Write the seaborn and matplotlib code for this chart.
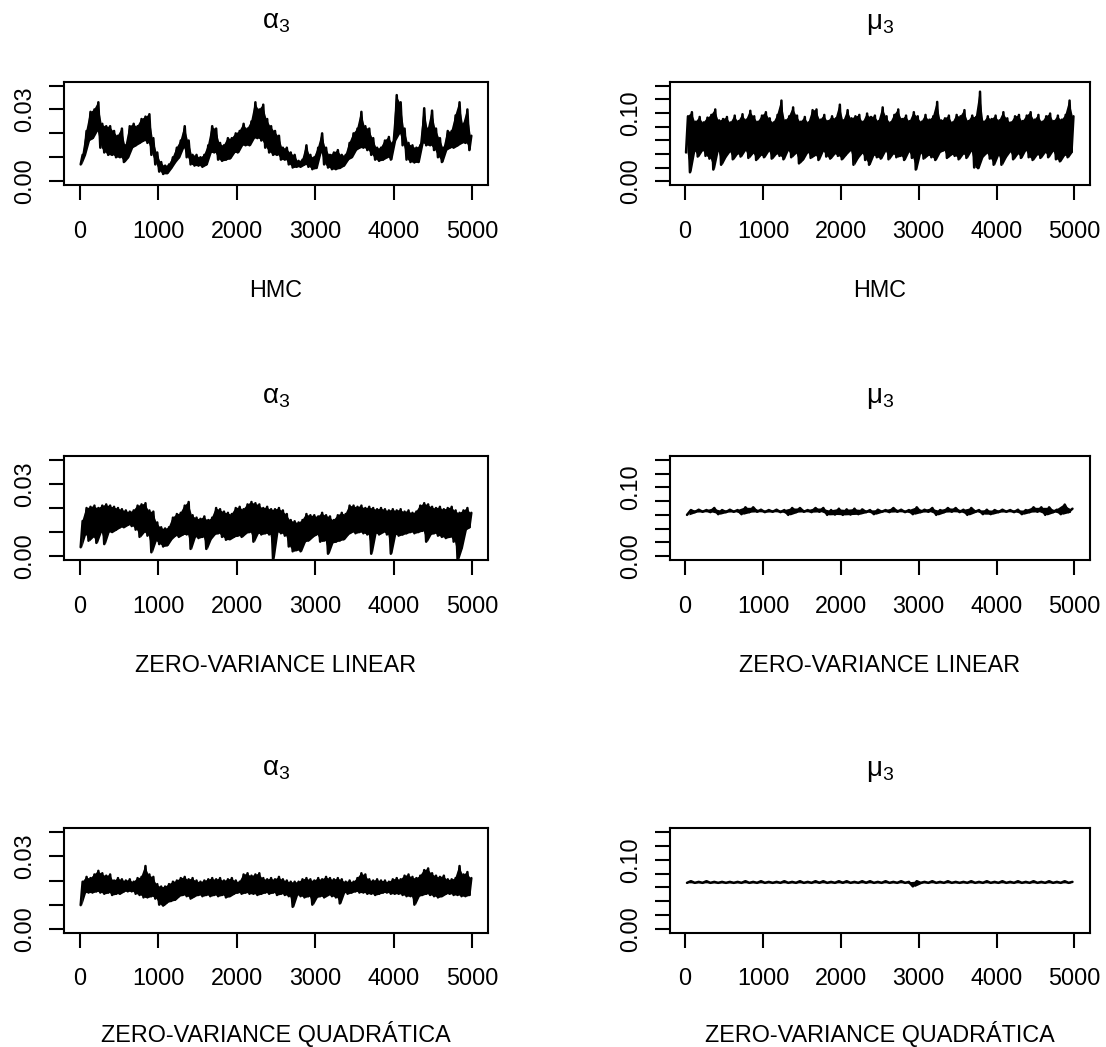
import numpy as np
import pandas as pd
import matplotlib
matplotlib.use("Agg")
import matplotlib.pyplot as plt
import seaborn as sns

# ------------------------------------------------------------------
# MCMC chains of alpha_3 and mu_3 (5000 iterations each), summarised
# as the minimum / maximum of the chain inside consecutive blocks.
# All values are given in units of 1e-3.
# ------------------------------------------------------------------
n_iter = 5000

# alpha_3, HMC (blocks of 50 iterations)
alpha_hmc_min = [7, 11, 17, 18, 21, 14, 12, 11, 11, 10,
                 10, 8, 10, 14, 15, 16, 17, 16, 11, 7,
                 4, 3, 3.3, 5.5, 8, 10, 14, 10, 7, 6.5,
                 6.5, 6, 7, 12, 12, 9, 8.5, 9, 9.5, 12,
                 12, 15, 15, 15, 18, 18, 17, 14, 12, 11,
                 11, 9, 9, 7, 5.7, 6, 6, 7, 6, 5,
                 5.5, 12, 7, 5.7, 5, 5, 5.5, 6.5, 9, 10,
                 13, 14, 14, 13, 11, 9, 8.5, 9, 10, 9,
                 17, 20, 15, 9, 8, 7.8, 8, 16, 15, 15,
                 13, 10, 8, 13, 14, 14, 15, 16, 16, 13]
alpha_hmc_max = [11, 21, 29, 30, 33, 24, 23, 23, 21, 19,
                 22, 15, 23, 24, 23, 26, 27, 28, 18, 12,
                 8, 6.5, 7, 10, 14, 17, 23, 17, 11, 11,
                 10, 11, 15, 23, 22, 16, 15, 18, 18, 20,
                 21, 24, 22, 25, 33, 30, 32, 26, 23, 21,
                 19, 14, 14, 12, 11, 8.5, 9, 15, 11, 10,
                 14, 20, 14, 11, 12, 13, 11, 11, 16, 20,
                 22, 29, 23, 22, 18, 14, 14, 17, 18.5, 16,
                 36, 33, 22, 16, 15, 14, 15, 30.5, 22, 29.5,
                 22, 18, 14, 21, 21, 27.5, 33, 24, 30, 19]

# mu_3, HMC (blocks of 50 iterations)
mu_hmc_min = [42, 13, 44, 36, 45, 37, 33, 17, 44, 24,
              35, 43, 32, 40, 36, 45, 34, 41, 31, 38,
              35, 44, 33, 40, 37, 32, 45, 35, 41, 26,
              32, 42, 34, 38, 31, 44, 36, 33, 40, 37,
              32, 39, 45, 24, 34, 41, 31, 24, 38, 35,
              33, 44, 32, 40, 35, 37, 31, 43, 34, 17,
              41, 33, 38, 35, 31, 42, 45, 34, 39, 37,
              32, 40, 34, 44, 20, 19, 35, 41, 33, 24,
              38, 24, 35, 43, 32, 40, 34, 45, 35, 31,
              39, 34, 42, 35, 44, 32, 29, 38, 35, 43]
mu_hmc_max = [95, 101, 87, 94, 86, 93, 97, 105, 89, 91,
              94, 86, 96, 88, 98, 90, 103, 95, 87, 96,
              101, 92, 86, 97, 118, 89, 95, 108, 96, 87,
              94, 86, 104, 105, 90, 97, 88, 95, 92, 112,
              89, 104, 92, 95, 97, 87, 99, 94, 96, 88,
              108, 95, 86, 97, 105, 91, 96, 88, 101, 95,
              87, 97, 90, 95, 116, 89, 92, 96, 86, 97,
              95, 104, 88, 96, 94, 131, 87, 95, 91, 96,
              89, 101, 92, 86, 95, 97, 88, 96, 101, 90,
              97, 87, 95, 99, 88, 96, 90, 97, 118, 95]

# alpha_3, zero-variance linear (blocks of 50 iterations)
alpha_zvl_min = [3.7, 9, 6.4, 8, 5.5, 10, 5, 10, 10, 11,
                 12, 12, 13, 12.5, 11, 8, 10, 8.5, 1.6, 6.4,
                 5, 4, 4.5, 7, 8.5, 8, 9, 9, 3, 8,
                 7.5, 8, 3, 7, 9, 9.5, 8, 6.8, 7, 8,
                 8.5, 8, 9.5, 10, 6, 9.5, 9, 9.5, 9, -1.5,
                 10, 9.5, 8.5, 4, 2, 2.5, 2, 6, 6.5, 8,
                 9, 6, 6.5, 1, 5.5, 6, 6.5, 7, 9, 10,
                 9.5, 10, 9.5, 9, 1, 9.5, 9, 10, 9, 1,
                 9, 8.5, 9, 9.5, 10, 9.5, 10, 10.5, 6, 9,
                 9.5, 8.5, 8, 7.5, 8, 6, -1.5, 3.5, 11, 12]
alpha_zvl_max = [14.6, 20, 20.5, 21, 20, 21, 21.5, 21, 20.5, 20,
                 19.5, 19, 18.5, 19, 21, 21.5, 22, 19, 18.5, 14,
                 12, 11.5, 12, 16, 17.5, 18, 21, 22.5, 17, 16,
                 15.5, 16.5, 15, 16, 20, 19.5, 18.5, 18, 17.5, 20,
                 20.5, 19.5, 21.5, 22.5, 22, 21.5, 20, 20.5, 19.5, 19.5,
                 20, 19, 17.5, 15, 14.5, 14, 15, 17.5, 17, 17,
                 16.5, 18, 17, 16.5, 15, 17, 18, 17.5, 21, 21,
                 20.5, 21, 20, 20.5, 20, 19.5, 20, 19.5, 19, 19.5,
                 19, 19.5, 18.5, 19, 18, 18.5, 21, 22, 21.5, 20.5,
                 20, 20.5, 19.5, 20, 20.5, 19, 18, 19, 20, 18]

# mu_3, zero-variance linear (blocks of 100 iterations)
mu_zvl_min = [60, 64, 64.5, 64, 61, 64, 64.5, 61, 64, 64.5,
              64, 64.5, 64, 60, 64, 64.5, 64, 64.5, 60, 60.5,
              60, 60.5, 61, 64, 61, 64.5, 64, 64.5, 64, 61,
              64, 64.5, 60, 64, 64.5, 64, 60, 64.5, 61, 61,
              64, 64.5, 64, 61, 64, 64.5, 60, 64, 61, 64]
mu_zvl_max = [67, 67.5, 67, 70, 67, 67.5, 67, 71, 71, 67.5,
              67, 67.5, 67, 70, 70, 67, 70, 70, 67, 69,
              68, 69, 68, 67, 67.5, 67, 70, 67.5, 67, 71,
              67.5, 70, 67, 70, 70, 67.5, 70, 67, 67.5, 67,
              67.5, 67, 67.5, 67, 71, 71, 71, 67.5, 75, 69]

# alpha_3, zero-variance quadratic (blocks of 50 iterations)
alpha_zvq_min = [9.8, 15, 15, 15, 15.5, 15, 14.5, 15, 14, 14.5,
                 14.5, 15.5, 15.5, 15.5, 14.5, 14, 13, 13, 13.5, 12.5,
                 10, 9.6, 11, 11.5, 12, 13.5, 14, 13.5, 12.5, 13.5,
                 14, 13.5, 14, 13.5, 14, 13.5, 14, 13, 13.5, 14.5,
                 15, 14.5, 15, 14.5, 14.5, 14, 14.5, 15, 14.5, 15,
                 14, 14.5, 14, 13.5, 9.1, 14, 13.5, 13, 13.5, 10,
                 13, 13.5, 13, 14, 13.5, 13, 10.5, 15, 14.5, 15,
                 15.5, 15, 15, 14.5, 14.5, 14, 14.5, 15, 15, 14.5,
                 14.5, 14.5, 14, 13.5, 13.5, 10, 13.5, 14, 14.5, 14,
                 13.5, 13, 13.5, 14.5, 14.5, 14, 14, 13.5, 13.5, 14]
alpha_zvq_max = [19.5, 21.5, 21, 22.5, 24, 23, 22, 22.5, 20, 21,
                 20.5, 20, 20.5, 19.5, 21, 21.5, 26, 22.5, 21.5, 18.5,
                 17.5, 17.5, 18.5, 19.5, 20, 21, 21.5, 20.5, 21, 20,
                 19.5, 20, 20.5, 21, 20.5, 21, 20, 20.5, 21, 20,
                 19.5, 22.5, 23, 22, 22.5, 23, 21, 20.5, 21, 20.5,
                 21.5, 20.5, 20, 19.5, 19.5, 19.5, 20.5, 21, 20.5, 20,
                 21, 20.5, 21.5, 21, 20.5, 21, 20.5, 19.5, 20, 19.5,
                 21, 23, 22.5, 20.5, 20, 20.5, 20, 20, 19.5, 20.5,
                 21, 20.5, 22, 22.5, 21.5, 21, 22, 24.3, 25, 23,
                 22, 21.5, 22, 20.5, 20.5, 21, 26, 22.5, 23.5, 21]

# mu_3, zero-variance quadratic (blocks of 100 iterations)
mu_zvq_min = [66.6, 66.6, 66.6, 66.6, 66.6, 66.6, 66.6, 66.6, 66.6, 66.6,
              66.6, 66.6, 66.6, 66.6, 66.6, 66.6, 66.6, 66.6, 66.6, 66.6,
              66.6, 66.6, 66.6, 66.6, 66.6, 66.6, 66.6, 66.6, 66.6, 61.5,
              66.6, 66.6, 66.6, 66.6, 66.6, 66.6, 66.6, 66.6, 66.6, 66.6,
              66.6, 66.6, 66.6, 66.6, 66.6, 66.6, 66.6, 66.6, 66.6, 66.6]
mu_zvq_max = [69.0, 68.0, 69.0, 68.0, 68.0, 68.0, 68.0, 69.0, 68.0, 69.0,
              68.0, 68.0, 69.0, 68.0, 69.0, 68.0, 69.0, 69.0, 68.0, 69.0,
              69.0, 68.0, 69.0, 69.0, 68.0, 69.0, 68.0, 69.0, 68.0, 69.0,
              68.0, 69.0, 68.0, 69.0, 68.0, 68.0, 69.0, 68.0, 69.0, 68.0,
              69.0, 68.0, 69.0, 68.0, 69.0, 68.0, 69.0, 68.0, 69.0, 68.0]

methods = ["HMC", "ZERO-VARIANCE LINEAR", "ZERO-VARIANCE QUADRÁTICA"]
params = [r"$\mathregular{α_3}$", r"$\mathregular{μ_3}$"]

alpha_ticks = [0.00, 0.01, 0.02, 0.03, 0.04]
alpha_ticklabels = ["0.00", "", "", "0.03", ""]
mu_ticks = [0.00, 0.02, 0.04, 0.06, 0.08, 0.10, 0.12, 0.14]
mu_ticklabels = ["0.00", "", "", "", "", "0.10", "", ""]
x_ticks = [0, 1000, 2000, 3000, 4000, 5000]


def block_trace(lo, hi):
    """Long-form trace visiting each block's minimum then maximum,
    plus the per-block envelope (block centre, min, max)."""
    lo = np.asarray(lo, dtype=float) * 1e-3
    hi = np.asarray(hi, dtype=float) * 1e-3
    width = n_iter / len(lo)
    start = np.arange(len(lo)) * width
    it = np.column_stack([start + 0.25 * width, start + 0.75 * width]).ravel()
    val = np.column_stack([lo, hi]).ravel()
    trace = pd.DataFrame({"iteration": it, "value": val})
    envelope = pd.DataFrame({"iteration": start + 0.5 * width, "lo": lo, "hi": hi})
    return trace, envelope


chains = [
    [block_trace(alpha_hmc_min, alpha_hmc_max), block_trace(mu_hmc_min, mu_hmc_max)],
    [block_trace(alpha_zvl_min, alpha_zvl_max), block_trace(mu_zvl_min, mu_zvl_max)],
    [block_trace(alpha_zvq_min, alpha_zvq_max), block_trace(mu_zvq_min, mu_zvq_max)],
]

sns.set_style("ticks")
plt.rcParams["font.family"] = ["Liberation Sans", "DejaVu Sans"]
plt.rcParams["mathtext.fontset"] = "custom"
plt.rcParams["mathtext.rm"] = "Liberation Sans"
plt.rcParams["mathtext.it"] = "Liberation Sans"
plt.rcParams["text.color"] = "black"
plt.rcParams["axes.labelcolor"] = "black"
plt.rcParams["axes.linewidth"] = 1.5
plt.rcParams["xtick.major.width"] = 1.5
plt.rcParams["ytick.major.width"] = 1.5
plt.rcParams["xtick.major.size"] = 11
plt.rcParams["ytick.major.size"] = 11
plt.rcParams["xtick.color"] = "black"
plt.rcParams["ytick.color"] = "black"
plt.rcParams["axes.edgecolor"] = "black"

W, H = 1106, 1047
fig = plt.figure(figsize=(W / 100, H / 100), dpi=100)

col_px = [(64, 488), (669.5, 1090)]
row_px = [(81.7, 185), (456, 560), (828.3, 932.7)]
label_drop = [112.5, 112.5, 109]

fs = 16.8
for r, (top, bottom) in enumerate(row_px):
    for c, (left, right) in enumerate(col_px):
        ax = fig.add_axes([left / W, 1 - bottom / H, (right - left) / W, (bottom - top) / H])
        trace, env = chains[r][c]
        # dense part of the chain: the block envelope, filled solid
        ax.fill_between(env["iteration"], env["lo"], env["hi"],
                        color="black", lw=0)
        # the chain itself, wandering between block extremes
        sns.lineplot(data=trace, x="iteration", y="value", sort=False,
                     estimator=None, color="black", lw=1.8, ax=ax)
        ax.set_xlim(-199.96, 5199.96)
        if c == 0:
            ax.set_ylim(-0.0016, 0.0416)
            ax.set_yticks(alpha_ticks)
            ax.set_yticklabels(alpha_ticklabels)
        else:
            ax.set_ylim(-0.0056, 0.1456)
            ax.set_yticks(mu_ticks)
            ax.set_yticklabels(mu_ticklabels)
        ax.set_xticks(x_ticks)
        ax.set_xticklabels([str(t) for t in x_ticks])
        ax.tick_params(axis="x", labelsize=fs, pad=14, direction="out")
        ax.tick_params(axis="y", labelsize=fs, pad=9, direction="out")
        for lab in ax.get_yticklabels():
            lab.set_rotation(90)
            lab.set_va("center")
        for sp in ax.spines.values():
            sp.set_visible(True)
            sp.set_linewidth(1.5)
        ax.set_ylabel("")
        ax.set_xlabel(methods[r], fontsize=fs, va="baseline", color="black")
        h_px = bottom - top
        ax.xaxis.set_label_coords(0.5, -label_drop[r] / h_px)
        ax.set_title(params[c], fontsize=20, pad=38, color="black")

fig.savefig("out.png", dpi=100)
